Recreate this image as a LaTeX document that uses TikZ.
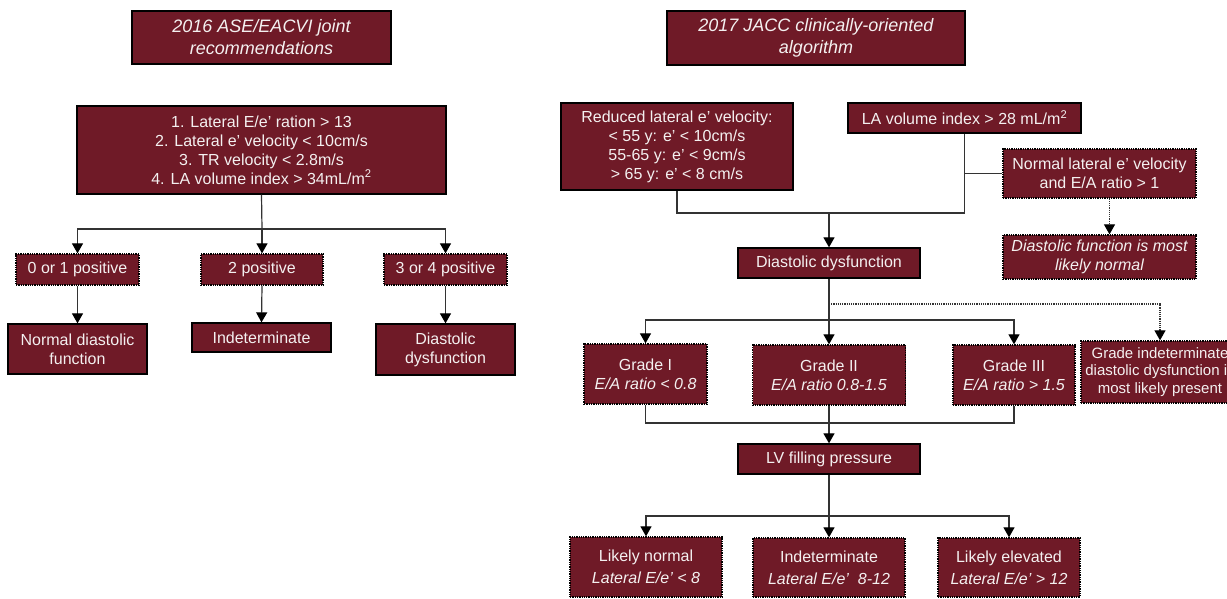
\documentclass[tikz,border=0pt]{standalone}
\usepackage{fontspec}
\setmainfont{Liberation Sans}
\usetikzlibrary{arrows.meta}
\definecolor{boxred}{HTML}{6F1A27}
\definecolor{boxtext}{HTML}{F4F0F0}
\newcommand{\ttlfont}{\fontsize{18}{22}\selectfont\itshape}
\begin{document}
\begin{tikzpicture}[x=1pt,y=-1pt]
        \tikzstyle{every node}+=[inner sep=0pt]
        \tikzstyle{box}=[draw=black, line width=1.3pt, fill=boxred, text=boxtext, align=center, font=\fontsize{16}{19}\selectfont]
        \tikzstyle{dbox}=[box, densely dotted]
        \tikzstyle{con}=[draw=black!80, line width=1.2pt]
        \tikzstyle{arr}=[con, -{Triangle[width=11pt,length=10pt,fill=black,color=black]}]
        \useasboundingbox (0,0) rectangle (1227,598);
        % left: 2016 ASE/EACVI
        \node (tL) at (261.5,37.5) [box, minimum width=259pt, minimum height=53pt, font=\ttlfont] {2016 ASE/EACVI joint\\recommendations};
        \node (crit) at (261.5,150) [box, minimum width=369pt, minimum height=88pt] {1. Lateral E/e’ ration > 13\\2. Lateral e’ velocity < 10cm/s\\3. TR velocity < 2.8m/s\\4. LA volume index > 34mL/m\textsuperscript{2}};
        \node (p01) at (77.5,269.5) [dbox, minimum width=123pt, minimum height=31pt] {0 or 1 positive};
        \node (p2) at (262,269.5) [dbox, minimum width=122pt, minimum height=31pt] {2 positive};
        \node (p34) at (445.5,269.5) [dbox, minimum width=123pt, minimum height=31pt] {3 or 4 positive};
        \node (rN) at (77.5,349) [box, minimum width=139pt, minimum height=50pt] {Normal diastolic\\function};
        \node (rI) at (261.5,337.5) [box, minimum width=139pt, minimum height=29pt] {Indeterminate};
        \node (rD) at (445.5,349.5) [box, minimum width=139pt, minimum height=51pt] {Diastolic\\dysfunction};
        \coordinate (jL) at (262,229);
        \draw [con] (crit.south) -- (jL);
        \draw [arr] (jL) -- (p2.north);
        \draw [arr] (jL) -| (p01.north);
        \draw [arr] (jL) -| (p34.north);
        \draw [arr] (p01.south) -- (rN.north);
        \draw [arr] (p2.south) -- (rI.north);
        \draw [arr] (p34.south) -- (rD.north);
        % right: 2017 JACC
        \node (tR) at (816,38) [box, minimum width=298pt, minimum height=54pt, font=\ttlfont] {2017 JACC clinically-oriented\\algorithm};
        \node (red) at (677,146.5) [box, minimum width=232pt, minimum height=87pt] {Reduced lateral e’ velocity:\\< 55 y: e’ < 10cm/s\\55-65 y: e’ < 9cm/s\\> 65 y: e’ < 8 cm/s};
        \node (la) at (964.5,118) [box, minimum width=233pt, minimum height=30pt] {LA volume index > 28 mL/m\textsuperscript{2}};
        \node (nor) at (1099.5,173.5) [dbox, minimum width=193pt, minimum height=49pt] {Normal lateral e’ velocity\\and E/A ratio > 1};
        \node (dn) at (1099.5,257) [dbox, minimum width=193pt, minimum height=44pt] {\itshape Diastolic function is most\\\itshape likely normal};
        \node (dd) at (829,263) [box, minimum width=182pt, minimum height=30pt] {Diastolic dysfunction};
        \node (g1) at (645.5,374) [dbox, minimum width=123pt, minimum height=60pt] {Grade I\\\textit{E/A ratio < 0.8}};
        \node (g2) at (829,375) [dbox, minimum width=153pt, minimum height=60pt] {Grade II\\\textit{E/A ratio 0.8-1.5}};
        \node (g3) at (1014,375) [dbox, minimum width=122pt, minimum height=60pt] {Grade III\\\textit{E/A ratio > 1.5}};
        \node (gi) at (1160,372) [dbox, minimum width=158pt, minimum height=62pt, font=\fontsize{15}{17.5}\selectfont] {Grade indeterminate\\diastolic dysfunction is\\most likely present};
        \node (lv) at (829,459) [box, minimum width=182pt, minimum height=30pt] {LV filling pressure};
        \node (b1) at (646,567) [dbox, minimum width=152pt, minimum height=60pt] {Likely normal\\[3pt]\textit{Lateral E/e’ < 8}};
        \node (b2) at (829,567.5) [dbox, minimum width=152pt, minimum height=59pt] {Indeterminate\\[3pt]\textit{Lateral E/e’\ \ 8-12}};
        \node (b3) at (1009,567.5) [dbox, minimum width=142pt, minimum height=59pt] {Likely elevated\\[3pt]\textit{Lateral E/e’ > 12}};
        \coordinate (jR) at (829,213);
        \draw [con] (red.south) |- (jR);
        \draw [con] (la.south) |- (jR);
        \draw [con] (la.south |- nor.west) -- (nor.west);
        \draw [arr] (jR) -- (dd.north);
        \draw [arr, densely dotted] ([xshift=10pt]nor.south) -- ([xshift=10pt]dn.north);
        \coordinate (jD) at (829,304);
        \coordinate (jG) at (829,320);
        \draw [con] (dd.south) -- (jG);
        \draw [arr, densely dotted] (jD) -| (gi.north);
        \draw [arr] (jG) -- (g2.north);
        \draw [arr] (jG) -| (g1.north);
        \draw [arr] (jG) -| (g3.north);
        \coordinate (jM) at (829,423);
        \draw [con] (g1.south) |- (jM);
        \draw [con] (g3.south) |- (jM);
        \draw [arr] (g2.south) -- (lv.north);
        \coordinate (jB) at (829,516);
        \draw [con] (lv.south) -- (jB);
        \draw [arr] (jB) -- (b2.north);
        \draw [arr] (jB) -| (b1.north);
        \draw [arr] (jB) -| (b3.north);
\end{tikzpicture}
\end{document}
